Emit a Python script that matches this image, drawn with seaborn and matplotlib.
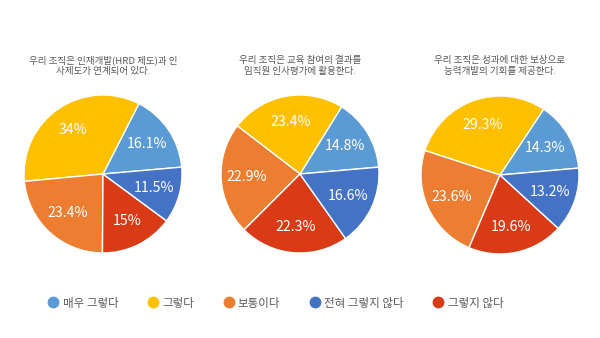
import matplotlib
matplotlib.use("Agg")
import matplotlib.pyplot as plt
from matplotlib.lines import Line2D
import seaborn as sns

sns.set_theme(style="white")
plt.rcParams['font.family'] = ['Noto Sans CJK KR', 'DejaVu Sans']

categories = ["매우 그렇다", "그렇다", "보통이다", "그렇지 않다", "전혀 그렇지 않다"]
legend_order = ["매우 그렇다", "그렇다", "보통이다", "전혀 그렇지 않다", "그렇지 않다"]
colors = {"매우 그렇다": "#5B9BD5", "그렇다": "#FFC000", "보통이다": "#ED7D31",
          "그렇지 않다": "#DA3B17", "전혀 그렇지 않다": "#4472C4"}

titles = ["우리 조직은 인재개발(HRD 제도)과 인\n사제도가 연계되어 있다.",
          "우리 조직은 교육 참여의 결과를\n임직원 인사평가에 활용한다.",
          "우리 조직은 성과에 대한 보상으로\n능력개발의 기회를 제공한다."]
values1 = [16.1, 34.0, 23.4, 15.0, 11.5]
values2 = [14.8, 23.4, 22.9, 22.3, 16.6]
values3 = [14.3, 29.3, 23.6, 19.6, 13.2]
all_values = [values1, values2, values3]

W, H = 600, 338
fig = plt.figure(figsize=(W / 100, H / 100), dpi=100)
fig.patch.set_facecolor("white")

centers = [(103, 174), (300, 174), (500, 175)]
R = 79
pal = sns.color_palette([colors[c] for c in categories])

for (cx, cy), vals, title in zip(centers, all_values, titles):
    ax = fig.add_axes([(cx - R) / W, (H - cy - R) / H, 2 * R / W, 2 * R / H])
    ax.pie(vals, colors=pal, startangle=5, counterclock=True,
           autopct=lambda p: f"{p:.1f}".rstrip("0").rstrip("."),
           pctdistance=0.67,
           wedgeprops=dict(edgecolor="white", linewidth=1),
           textprops=dict(color="white", fontsize=10.2))
    for t in ax.texts:
        if t.get_text() and t.get_color() == "white":
            t.set_text(t.get_text() + "%")
    ax.set_xlim(-1, 1)
    ax.set_ylim(-1, 1)
    ax.set_aspect("equal")
    ax.axis("off")
    fig.text(cx / W, 1 - 66 / H, title, ha="center", va="center",
             fontsize=6.9, color="#595959", linespacing=1.3)

handles = [Line2D([], [], marker="o", linestyle="", markersize=7.5,
                  markerfacecolor=colors[c], markeredgecolor=colors[c]) for c in legend_order]
fig.legend(handles, legend_order, loc="center", bbox_to_anchor=(0.459, 1 - 303 / H),
           ncol=5, frameon=False, fontsize=8.3, handletextpad=0.3,
           columnspacing=2.5, labelcolor="#595959", handlelength=1.0)

fig.savefig("out.png", dpi=100, facecolor="white")
